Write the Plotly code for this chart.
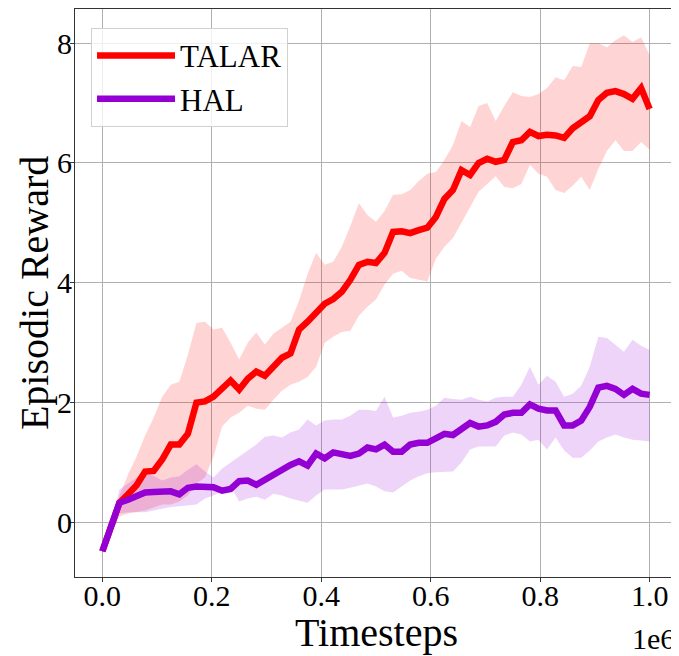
import plotly.graph_objects as go

N_STEPS = 64
timesteps = [i / N_STEPS * 1e6 for i in range(N_STEPS + 1)]

talar_mean = [-0.48, -0.07, 0.33, 0.47, 0.62, 0.85, 0.86, 1.05, 1.3, 1.3, 1.48, 2.0, 2.02,
              2.1, 2.25, 2.37, 2.22, 2.4, 2.52, 2.45, 2.6, 2.75, 2.82, 3.22, 3.35, 3.52,
              3.65, 3.73, 3.85, 4.05, 4.3, 4.35, 4.33, 4.5, 4.85, 4.86, 4.83, 4.88, 4.92,
              5.1, 5.4, 5.55, 5.88, 5.8, 6.0, 6.07, 6.02, 6.05, 6.35, 6.38, 6.52, 6.45,
              6.47, 6.46, 6.42, 6.58, 6.68, 6.78, 7.05, 7.17, 7.2, 7.15, 7.07, 7.25, 6.9]
talar_upper = [-0.48, 0.0, 0.45, 0.8, 1.1, 1.45, 1.75, 2.1, 2.3, 2.35, 2.8, 3.33, 3.35,
               3.22, 3.25, 3.0, 2.72, 3.0, 3.17, 2.97, 3.15, 3.25, 3.35, 3.7, 4.15, 4.5,
               4.3, 4.35, 4.6, 4.95, 5.33, 5.13, 5.02, 5.2, 5.47, 5.48, 5.55, 5.7, 5.82,
               5.85, 6.05, 6.3, 6.7, 6.6, 6.95, 7.0, 6.7, 6.95, 7.18, 7.12, 7.1, 7.15,
               7.25, 7.43, 7.38, 7.62, 7.6, 8.0, 8.0, 7.93, 8.05, 8.13, 8.02, 8.1, 7.8]
talar_lower = [-0.48, -0.2, 0.1, 0.15, 0.18, 0.2, 0.25, 0.3, 0.3, 0.35, 0.45, 0.65, 0.75,
               1.1, 1.6, 1.75, 1.83, 1.95, 1.9, 1.88, 2.05, 2.2, 2.3, 2.35, 2.43, 2.6,
               3.0, 3.1, 3.18, 3.2, 3.45, 3.6, 3.72, 3.97, 4.15, 4.2, 4.08, 4.05, 4.02,
               4.4, 4.6, 4.75, 5.0, 5.25, 5.52, 5.65, 5.78, 5.6, 5.58, 5.65, 5.97, 5.82,
               5.77, 5.55, 5.5, 5.62, 5.77, 5.55, 5.9, 6.2, 6.38, 6.2, 6.2, 6.35, 6.22]

hal_mean = [-0.48, -0.07, 0.33, 0.38, 0.45, 0.5, 0.51, 0.52, 0.52, 0.47, 0.58, 0.6, 0.6,
            0.59, 0.53, 0.56, 0.69, 0.7, 0.63, 0.72, 0.8, 0.88, 0.96, 1.02, 0.95, 1.15,
            1.07, 1.17, 1.15, 1.11, 1.15, 1.25, 1.22, 1.3, 1.18, 1.18, 1.3, 1.33, 1.33,
            1.4, 1.48, 1.46, 1.55, 1.66, 1.6, 1.62, 1.68, 1.8, 1.83, 1.83, 1.97, 1.9,
            1.87, 1.87, 1.62, 1.62, 1.7, 1.93, 2.25, 2.28, 2.23, 2.13, 2.23, 2.15, 2.13]
hal_upper = [-0.48, 0.0, 0.55, 0.65, 0.75, 0.83, 0.78, 0.7, 0.75, 0.77, 0.88, 0.97, 0.85,
             0.75, 0.9, 1.0, 1.1, 1.2, 1.3, 1.43, 1.45, 1.42, 1.5, 1.55, 1.72, 1.62,
             1.7, 1.72, 1.72, 1.78, 1.88, 1.88, 1.86, 2.1, 1.75, 1.78, 1.83, 1.85, 1.88,
             1.95, 2.08, 2.06, 2.05, 2.1, 2.05, 2.02, 2.08, 2.1, 2.1, 2.3, 2.6, 2.3,
             2.45, 2.35, 2.1, 2.15, 2.28, 2.6, 3.1, 3.08, 2.97, 2.85, 3.05, 2.95, 2.88]
hal_lower = [-0.48, -0.12, 0.15, 0.17, 0.17, 0.17, 0.2, 0.23, 0.26, 0.27, 0.28, 0.3, 0.4,
             0.45, 0.52, 0.6, 0.35, 0.4, 0.43, 0.38, 0.48, 0.45, 0.4, 0.37, 0.33, 0.45,
             0.55, 0.55, 0.55, 0.58, 0.62, 0.65, 0.6, 0.52, 0.5, 0.6, 0.7, 0.77, 0.82,
             0.84, 0.85, 0.85, 1.0, 1.22, 1.27, 1.27, 1.27, 1.45, 1.5, 1.47, 1.35, 1.38,
             1.22, 1.42, 1.2, 1.08, 1.08, 1.2, 1.35, 1.42, 1.47, 1.42, 1.38, 1.37, 1.35]

x_tickvals = [0, 2e5, 4e5, 6e5, 8e5, 1e6]
x_ticktext = ["0.0", "0.2", "0.4", "0.6", "0.8", "1.0"]
y_tickvals = [0, 2, 4, 6, 8]

FONT = "Liberation Serif"
RED = "#ff0000"
PURPLE = "#9400d3"

fig = go.Figure()

for lower, upper, fillc, grp in [(talar_lower, talar_upper, "rgba(255,0,0,0.17)", "talar"),
                                 (hal_lower, hal_upper, "rgba(148,0,211,0.17)", "hal")]:
    fig.add_trace(go.Scatter(x=timesteps, y=lower, mode="lines", line=dict(width=0),
                             showlegend=False, hoverinfo="skip", legendgroup=grp))
    fig.add_trace(go.Scatter(x=timesteps, y=upper, mode="lines", line=dict(width=0),
                             fill="tonexty", fillcolor=fillc, showlegend=False,
                             hoverinfo="skip", legendgroup=grp))

fig.add_trace(go.Scatter(x=timesteps, y=talar_mean, mode="lines", name="TALAR",
                         legendgroup="talar", line=dict(color=RED, width=6.5)))
fig.add_trace(go.Scatter(x=timesteps, y=hal_mean, mode="lines", name="HAL",
                         legendgroup="hal", line=dict(color=PURPLE, width=6.5)))

axis_common = dict(showgrid=True, gridcolor="#b0b0b0", gridwidth=1, zeroline=False,
                   showline=True, mirror=True, linecolor="#333333", linewidth=1.2,
                   ticks="", automargin=False, tickfont=dict(family=FONT, size=30))

# page body has an 8px default margin, so the figure is sized/offset to compensate
fig.update_layout(
    width=671, height=648,
    margin=dict(l=67, r=2, t=1, b=79, autoexpand=False),
    plot_bgcolor="white", paper_bgcolor="white",
    font=dict(family=FONT, size=30, color="black"),
    showlegend=True,
    legend=dict(x=0.0266, y=0.967, xanchor="left", yanchor="top",
                bgcolor="rgba(255,255,255,0.8)", bordercolor="#d0d0d0", borderwidth=1,
                font=dict(family=FONT, size=31), traceorder="normal",
                tracegroupgap=16, itemwidth=78),
    xaxis=dict(range=[-0.05e6, 1.05e6], tickvals=x_tickvals, ticktext=x_ticktext,
               ticklabelstandoff=-8,
               minor=dict(tickvals=x_tickvals, ticks="outside", ticklen=4,
                          tickcolor="#333333", showgrid=False),
               **axis_common),
    yaxis=dict(range=[-0.91, 8.57], tickvals=y_tickvals,
               ticklabelstandoff=-4,
               minor=dict(tickvals=y_tickvals, ticks="outside", ticklen=4,
                          tickcolor="#333333", showgrid=False),
               **axis_common),
)

fig.add_annotation(text="Timesteps", xref="paper", yref="paper", x=0.5, y=-0.0546,
                   xanchor="center", yanchor="top", showarrow=False,
                   font=dict(family=FONT, size=40))
fig.add_annotation(text="Episodic Reward", xref="paper", yref="paper", x=-0.068, y=0.5,
                   xanchor="center", yanchor="middle", textangle=-90, showarrow=False,
                   font=dict(family=FONT, size=40))
fig.add_annotation(text="1e6", xref="paper", yref="paper", x=1.0, y=-0.0757,
                   xanchor="right", yanchor="top", showarrow=False,
                   font=dict(family=FONT, size=30))

fig.write_html("out.html")
